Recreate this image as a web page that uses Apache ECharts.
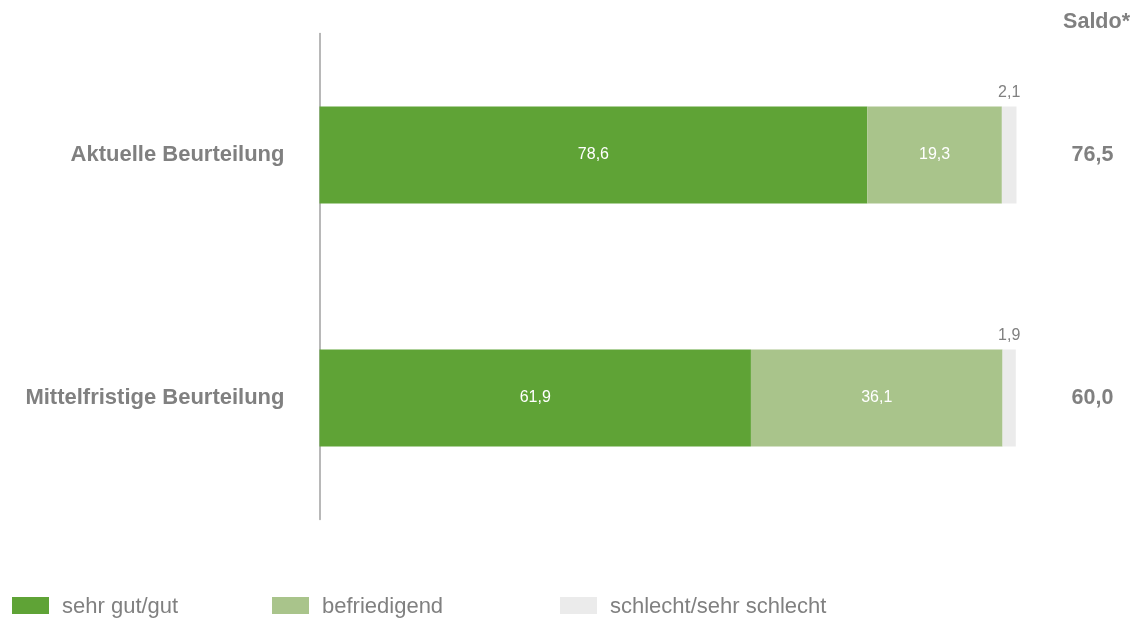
<!DOCTYPE html>
<html><head><meta charset="utf-8">
<script src="https://cdn.jsdelivr.net/npm/echarts@6/dist/echarts.min.js"></script>
<style>html,body{margin:0;padding:0;background:#fff}#c{width:1131px;height:618px}</style>
</head><body><div id="c"></div>
<script>
const categories = ['Aktuelle Beurteilung', 'Mittelfristige Beurteilung'];
const seriesNames = ['sehr gut/gut', 'befriedigend', 'schlecht/sehr schlecht'];
const sehrGut = [78.6, 61.9];
const befriedigend = [19.3, 36.1];
const schlecht = [2.1, 1.9];
const saldo = [76.5, 60.0];
const colors = ['#5fa336', '#a9c48b', '#ebebeb'];
const grey = '#808080';
const fmt = v => Number(v).toFixed(1).replace('.', ',');
const font = '"Liberation Sans", Arial, sans-serif';

const chart = echarts.init(document.getElementById('c'));
function legend(i, left) {
  return {
    data: [seriesNames[i]], left: left, top: 596, padding: 0, itemWidth: 37, itemHeight: 17,
    icon: 'rect', selectedMode: false,
    textStyle: { color: grey, fontSize: 22, fontFamily: font, padding: [0, 0, 0, 8],
      rich: { t: { fontSize: 22, color: grey, fontFamily: font, padding: [3, 0, 0, 0] } } },
    formatter: n => '{t|' + n + '}'
  };
}
chart.setOption({
  animation: false,
  title: { text: 'Saldo*', right: 1, top: 11, padding: 0, textStyle: { color: grey, fontSize: 21.5, fontWeight: 'bold', fontFamily: font } },
  legend: [legend(0, 12), legend(1, 272), legend(2, 560)],
  grid: { left: 319.5, top: 33.5, width: 697, height: 486 },
  xAxis: { type: 'value', min: 0, max: 100, show: false },
  yAxis: [
    { type: 'category', data: categories, inverse: true,
      axisLine: { show: true, lineStyle: { color: '#a0a0a0', width: 1.5 } },
      axisTick: { show: false },
      axisLabel: { color: grey, fontSize: 22, fontWeight: 'bold', fontFamily: font, margin: 35 } },
    { type: 'category', data: saldo.map(fmt), inverse: true, position: 'right',
      axisLine: { show: false }, axisTick: { show: false },
      axisLabel: { color: grey, fontSize: 21.5, fontWeight: 'bold', fontFamily: font, margin: 55, align: 'left' } }
  ],
  series: [
    { name: seriesNames[0], type: 'bar', stack: 's', data: sehrGut, barWidth: 97,
      itemStyle: { color: colors[0] },
      label: { show: true, position: 'inside', color: '#fff', fontSize: 16, fontFamily: font, formatter: p => fmt(p.value) } },
    { name: seriesNames[1], type: 'bar', stack: 's', data: befriedigend, barWidth: 97,
      itemStyle: { color: colors[1] },
      label: { show: true, position: 'inside', color: '#fff', fontSize: 16, fontFamily: font, formatter: p => fmt(p.value) } },
    { name: seriesNames[2], type: 'bar', stack: 's', data: schlecht, barWidth: 97,
      itemStyle: { color: colors[2] },
      label: { show: true, position: 'top', distance: 6, color: grey, fontSize: 16, fontFamily: font, formatter: p => fmt(p.value) } }
  ]
});
</script></body></html>
